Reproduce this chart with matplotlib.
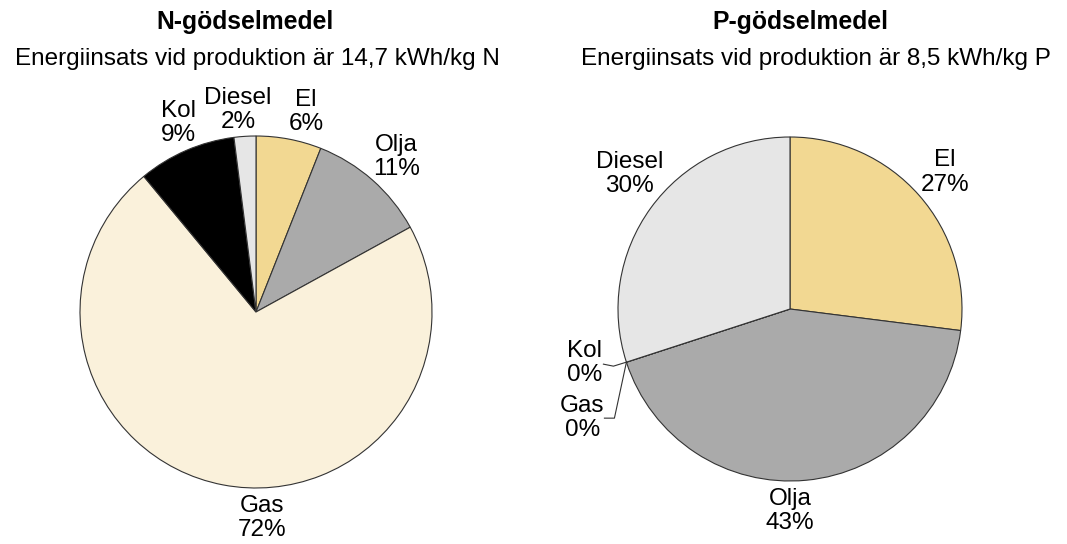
import numpy as np
import matplotlib.pyplot as plt

plt.rcParams['font.family'] = ['Liberation Sans', 'DejaVu Sans']

# data
kategorier = ['El', 'Olja', 'Gas', 'Kol', 'Diesel']
n_andel = [6, 11, 72, 9, 2]
p_andel = [27, 43, 0, 0, 30]
farger = ['#f2d892', '#aaaaaa', '#faf1db', '#000000', '#e6e6e6']

n_titel = 'N-gödselmedel'
n_under = 'Energiinsats vid produktion är 14,7 kWh/kg N'
p_titel = 'P-gödselmedel'
p_under = 'Energiinsats vid produktion är 8,5 kWh/kg P'

W, H = 1067, 544
fig = plt.figure(figsize=(W / 100, H / 100), dpi=100)
ax = fig.add_axes([0, 0, 1, 1])

FS = 17.5
LS = 1.12


def rita_paj(varden, centrum, radie, avst, vinkel_just, dolj):
    wedges, _ = ax.pie(varden, colors=farger, startangle=90, counterclock=False,
                       center=centrum, radius=radie, normalize=True,
                       wedgeprops=dict(edgecolor='#333333', linewidth=0.8))
    for w, namn, v in zip(wedges, kategorier, varden):
        if namn in dolj:
            continue
        mitt = np.deg2rad((w.theta1 + w.theta2) / 2 + vinkel_just.get(namn, 0))
        r = radie * avst.get(namn, 1.17)
        x = centrum[0] + r * np.cos(mitt)
        y = centrum[1] + r * np.sin(mitt)
        ax.text(x, y, f'{namn}\n{v}%', ha='center', va='center', fontsize=FS,
                linespacing=LS)
    return wedges


# vänster paj
cN = (256, 232)
rita_paj(n_andel, cN, 176,
         {'Olja': 1.19, 'El': 1.17, 'Kol': 1.16, 'Diesel': 1.15, 'Gas': 1.17},
         {'Gas': 12.5, 'El': -3.2, 'Kol': -1.2, 'Diesel': 1.5, 'Olja': -0.7}, [])
ax.text(245, H - 22, n_titel, ha='center', va='center', fontsize=17.8, fontweight='bold')
ax.text(257, H - 59, n_under, ha='center', va='center', fontsize=FS)

# höger paj
cP = (790, 235)
wp = rita_paj(p_andel, cP, 172, {'El': 1.2, 'Diesel': 1.22, 'Olja': 1.175},
              {'Olja': -5.4, 'Diesel': -4}, ['Kol', 'Gas'])
ax.text(800, H - 22, p_titel, ha='center', va='center', fontsize=17.8, fontweight='bold')
ax.text(816, H - 59, p_under, ha='center', va='center', fontsize=FS)

# ledarlinjer för 0 %-andelar
vk = np.deg2rad(wp[3].theta1)
ax0 = cP[0] + 172 * np.cos(vk)
ay0 = cP[1] + 172 * np.sin(vk)
ax.plot([ax0, ax0 - 13, ax0 - 23], [ay0, ay0 - 4, ay0 - 2], color='#333333', lw=0.8)
ax.plot([ax0, ax0 - 12, ax0 - 22], [ay0, ay0 - 56, ay0 - 56], color='#333333', lw=0.8)
ax.text(ax0 - 42, ay0 - 1, f'{kategorier[3]}\n{p_andel[3]}%', ha='center', va='center',
        fontsize=FS, linespacing=LS)
ax.text(ax0 - 44, ay0 - 56, f'{kategorier[2]}\n{p_andel[2]}%', ha='center', va='center',
        fontsize=FS, linespacing=LS)

# pie() sätter egna gränser, så de sätts sist
ax.set_xlim(0, W)
ax.set_ylim(0, H)
ax.set_aspect('equal')
ax.axis('off')

fig.savefig('out.png', dpi=100)
